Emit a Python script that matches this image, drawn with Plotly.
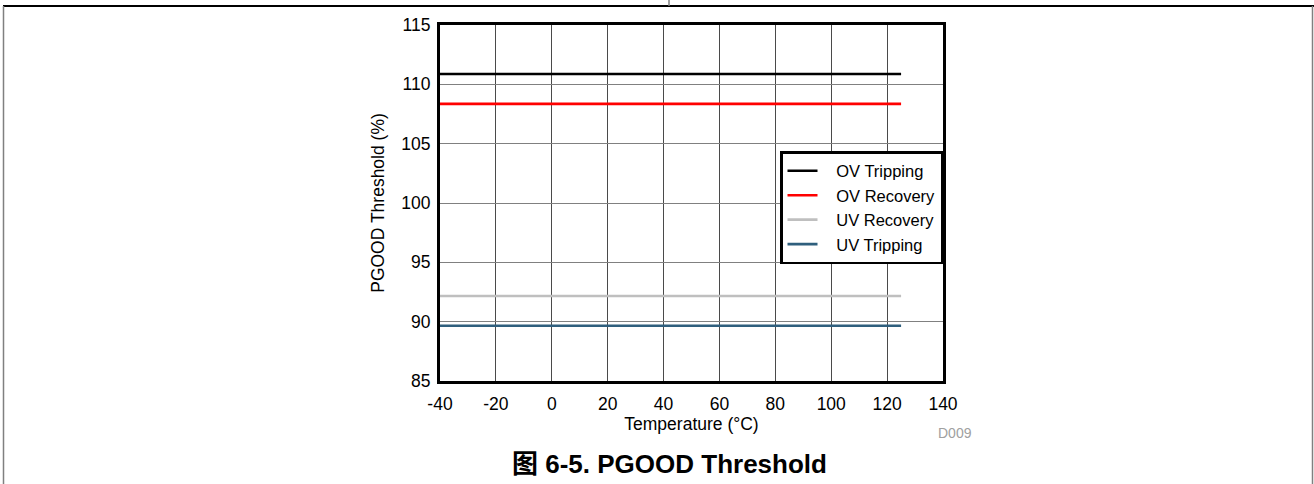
import plotly.graph_objects as go

# Data
temperature = [-40, 125]
ov_tripping = [110.87, 110.87]
ov_recovery = [108.35, 108.35]
uv_recovery = [92.16, 92.16]
uv_tripping = [89.66, 89.66]

series_names = ["OV Tripping", "OV Recovery", "UV Recovery", "UV Tripping"]
series_values = [ov_tripping, ov_recovery, uv_recovery, uv_tripping]
series_colors = ["#000000", "#ff0000", "#bfbfbf", "#2f5f7d"]

x_ticks = [-40, -20, 0, 20, 40, 60, 80, 100, 120, 140]
y_ticks = [85, 90, 95, 100, 105, 110, 115]

W, H = 1314, 484
L, R, T, B = 440, 943, 25, 381  # plot area in pixels
FONT = "Liberation Sans, Arial, Noto Sans CJK SC, sans-serif"
FS = 17.5
PAD = "\u00a0\u00a0\u00a0"

def px(x):
    return (x - L) / (R - L)

def py(y):
    return (B - y) / (B - T)

fig = go.Figure()
for name, vals, col in zip(series_names, series_values, series_colors):
    fig.add_trace(go.Scatter(x=temperature, y=vals, mode="lines", name=PAD + name,
                             line=dict(color=col, width=2.6)))

fig.update_layout(
    width=W, height=H,
    margin=dict(l=L, r=W - R, t=T, b=H - B, pad=0),
    paper_bgcolor="white", plot_bgcolor="white",
    font=dict(family=FONT, size=FS, color="black"),
    showlegend=True,
    legend=dict(x=1, xanchor="right", y=py(151), yanchor="top",
                bgcolor="white", bordercolor="black", borderwidth=2.5,
                font=dict(size=16.5, family=FONT), tracegroupgap=0,
                itemwidth=30),
    xaxis=dict(range=[-40, 140], tickvals=x_ticks, ticktext=[str(v) for v in x_ticks],
               showgrid=True, gridcolor="#4a4a4a", gridwidth=1,
               showline=True, linecolor="black", linewidth=3, mirror=True,
               zeroline=False, ticks="", ticklabelstandoff=5,
               tickfont=dict(size=FS, family=FONT),
               title=dict(text="Temperature (°C)", standoff=5,
                          font=dict(size=FS, family=FONT))),
    yaxis=dict(range=[85, 115], tickvals=y_ticks, ticktext=[str(v) for v in y_ticks],
               showgrid=True, gridcolor="#808080", gridwidth=1,
               showline=True, linecolor="black", linewidth=3, mirror=True,
               zeroline=False, ticks="", ticklabelstandoff=3,
               tickfont=dict(size=FS, family=FONT),
               title=dict(text="PGOOD Threshold (%)", standoff=13,
                          font=dict(size=FS, family=FONT))),
)

# Page frame lines
shapes = [
    dict(type="line", xref="paper", yref="paper", x0=px(3), x1=px(1314), y0=py(6), y1=py(6),
         line=dict(color="black", width=2)),
    dict(type="line", xref="paper", yref="paper", x0=px(669), x1=px(669), y0=py(0), y1=py(6),
         line=dict(color="#808080", width=1.5)),
    dict(type="line", xref="paper", yref="paper", x0=px(3.5), x1=px(3.5), y0=py(6), y1=py(484),
         line=dict(color="#808080", width=1.5)),
    dict(type="line", xref="paper", yref="paper", x0=px(1312.5), x1=px(1312.5), y0=py(6), y1=py(484),
         line=dict(color="#808080", width=1.5)),
]
fig.update_layout(shapes=shapes)

fig.add_annotation(text="D009", xref="paper", yref="paper", x=px(955), y=py(433),
                   xanchor="center", yanchor="middle", showarrow=False,
                   font=dict(size=14, color="#a0a0a0", family=FONT))
fig.add_annotation(text="<b>图 6-5. PGOOD Threshold</b>", xref="paper", yref="paper",
                   x=px(669), y=py(464), xanchor="center", yanchor="middle", showarrow=False,
                   font=dict(size=26, color="black", family=FONT))

fig.write_html("out.html", config={"displayModeBar": False},
               post_script="document.body.style.margin='0';document.body.style.overflow='hidden';")
